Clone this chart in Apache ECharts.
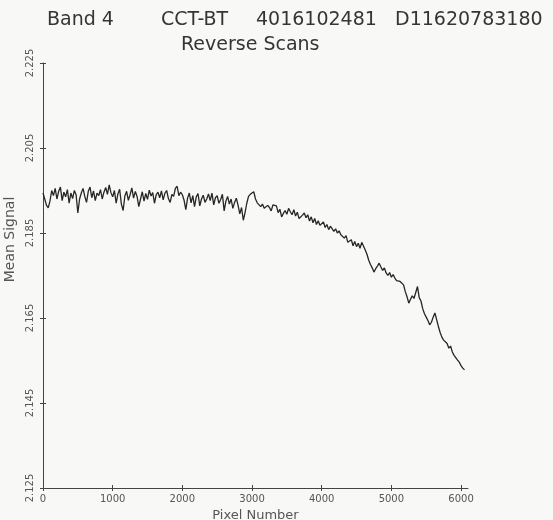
<!DOCTYPE html>
<html>
<head>
<meta charset="utf-8">
<script src="https://cdn.jsdelivr.net/npm/echarts@6/dist/echarts.min.js"></script>
<style>
  html, body { margin: 0; padding: 0; background: #f8f8f6; }
  #chart { width: 553px; height: 520px; }
</style>
</head>
<body>
<div id="chart"></div>
<script>
// samples are taken every 25 pixels, starting at pixel 0
const pixelStep = 25;
// mean signal, 10 samples (250 pixels) per row
const signal = [
  2.1944, 2.1930, 2.1915, 2.1909, 2.1925, 2.1950, 2.1938, 2.1955, 2.1930, 2.1948,
  2.1958, 2.1926, 2.1946, 2.1935, 2.1952, 2.1920, 2.1944, 2.1931, 2.1950, 2.1940,
  2.1897, 2.1930, 2.1944, 2.1955, 2.1936, 2.1922, 2.1948, 2.1958, 2.1933, 2.1949,
  2.1926, 2.1944, 2.1938, 2.1952, 2.1930, 2.1946, 2.1957, 2.1941, 2.1963, 2.1945,
  2.1935, 2.1950, 2.1920, 2.1942, 2.1953, 2.1918, 2.1903, 2.1937, 2.1948, 2.1927,
  2.1940, 2.1956, 2.1932, 2.1948, 2.1936, 2.1912, 2.1930, 2.1947, 2.1925, 2.1943,
  2.1929, 2.1951, 2.1937, 2.1945, 2.1920, 2.1940, 2.1946, 2.1933, 2.1949, 2.1928,
  2.1944, 2.1950, 2.1931, 2.1922, 2.1941, 2.1936, 2.1955, 2.1960, 2.1938, 2.1946,
  2.1940, 2.1927, 2.1905, 2.1932, 2.1944, 2.1921, 2.1938, 2.1912, 2.1935, 2.1943,
  2.1914, 2.1930, 2.1939, 2.1922, 2.1930, 2.1942, 2.1926, 2.1944, 2.1916, 2.1933,
  2.1938, 2.1920, 2.1929, 2.1941, 2.1902, 2.1925, 2.1936, 2.1918, 2.1930, 2.1908,
  2.1922, 2.1932, 2.1915, 2.1895, 2.1910, 2.1880, 2.1898, 2.1920, 2.1936, 2.1941,
  2.1938, 2.1947, 2.1930, 2.1921, 2.1925, 2.1912, 2.1918, 2.1908, 2.1904, 2.1915,
  2.1910, 2.1902, 2.1916, 2.1920, 2.1914, 2.1898, 2.1906, 2.1888, 2.1896, 2.1903,
  2.1894, 2.1908, 2.1900, 2.1893, 2.1905, 2.1890, 2.1899, 2.1884, 2.1880, 2.1892,
  2.1897, 2.1886, 2.1893, 2.1878, 2.1888, 2.1874, 2.1884, 2.1870, 2.1879, 2.1868,
  2.1869, 2.1876, 2.1863, 2.1870, 2.1858, 2.1866, 2.1862, 2.1854, 2.1860, 2.1850,
  2.1855, 2.1846, 2.1850, 2.1838, 2.1844, 2.1828, 2.1826, 2.1834, 2.1820, 2.1830,
  2.1818, 2.1826, 2.1814, 2.1828, 2.1824, 2.1810, 2.1800, 2.1786, 2.1776, 2.1768,
  2.1758, 2.1766, 2.1772, 2.1779, 2.1770, 2.1762, 2.1768, 2.1756, 2.1750, 2.1757,
  2.1746, 2.1752, 2.1744, 2.1738, 2.1742, 2.1736, 2.1739, 2.1728, 2.1712, 2.1700,
  2.1685, 2.1694, 2.1702, 2.1696, 2.1710, 2.1724, 2.1698, 2.1690, 2.1672, 2.1660,
  2.1652, 2.1644, 2.1634, 2.1640, 2.1652, 2.1662, 2.1646, 2.1630, 2.1616, 2.1605,
  2.1598, 2.1602, 2.1590, 2.1579, 2.1584, 2.1570, 2.1562, 2.1558, 2.1551, 2.1546,
  2.1538, 2.1532, 2.1528
];
const yTicks = [2.125, 2.145, 2.165, 2.185, 2.205, 2.225];
const xTicks = [0, 1000, 2000, 3000, 4000, 5000, 6000];

const chart = echarts.init(document.getElementById('chart'));
const ink = '#262626';
const labelColor = '#555';
const axisColor = '#444';
const font = 'DejaVu Sans';
const titleStyle = { fontFamily: font, fontSize: 19, fontWeight: 'normal', color: '#353535' };

const xBase = {
  type: 'value',
  min: 0,
  max: 6100,
  position: 'bottom',
  splitLine: { show: false }
};
const yBase = {
  type: 'value',
  min: 2.125,
  max: 2.225,
  interval: 0.02,
  position: 'left',
  splitLine: { show: false }
};

chart.setOption({
  backgroundColor: '#f8f8f6',
  animation: false,
  title: [
    { text: 'Band 4', left: 42, top: 6, textStyle: titleStyle },
    { text: 'CCT-BT', left: 156, top: 6, textStyle: titleStyle },
    { text: '4016102481', left: 251, top: 6, textStyle: titleStyle },
    { text: 'D11620783180', left: 390, top: 6, textStyle: titleStyle },
    { text: 'Reverse Scans', left: 176, top: 31, textStyle: titleStyle }
  ],
  grid: { left: 43, right: 85, top: 63, bottom: 32, outerBoundsMode: 'none' },
  xAxis: [
    Object.assign({}, xBase, {
      name: 'Pixel Number',
      nameLocation: 'middle',
      nameGap: 19,
      nameTextStyle: { fontFamily: font, fontSize: 13, color: labelColor },
      axisLine: { lineStyle: { color: axisColor, width: 1 } },
      axisTick: { length: 3, customValues: xTicks, lineStyle: { color: axisColor } },
      axisLabel: {
        margin: 6,
        customValues: xTicks,
        formatter: v => String(v),
        fontFamily: font,
        fontSize: 10,
        color: labelColor
      }
    }),
    Object.assign({}, xBase, {
      axisLine: { show: false },
      axisTick: { inside: true, length: 3, customValues: xTicks, lineStyle: { color: axisColor } },
      axisLabel: { show: false }
    })
  ],
  yAxis: [
    Object.assign({}, yBase, {
      name: 'Mean Signal',
      nameLocation: 'middle',
      nameGap: 26,
      nameTextStyle: { fontFamily: font, fontSize: 14, color: labelColor, padding: [0, 0, 0, 72] },
      axisLine: { lineStyle: { color: axisColor, width: 1 } },
      axisTick: { length: 3, lineStyle: { color: axisColor } },
      axisLabel: {
        rotate: 90,
        margin: 8,
        fontFamily: font,
        fontSize: 10,
        color: labelColor,
        formatter: v => {
          const t = yTicks.find(k => Math.abs(k - v) < 1e-6);
          return t === undefined ? '' : t.toFixed(3);
        }
      }
    }),
    Object.assign({}, yBase, {
      axisLine: { show: false },
      axisTick: { inside: true, length: 3, lineStyle: { color: axisColor } },
      axisLabel: { show: false }
    })
  ],
  series: [
    {
      type: 'line',
      xAxisIndex: 0,
      yAxisIndex: 0,
      data: signal.map((v, i) => [i * pixelStep, v]),
      showSymbol: false,
      lineStyle: { color: ink, width: 1.3 }
    }
  ]
});
</script>
</body>
</html>
